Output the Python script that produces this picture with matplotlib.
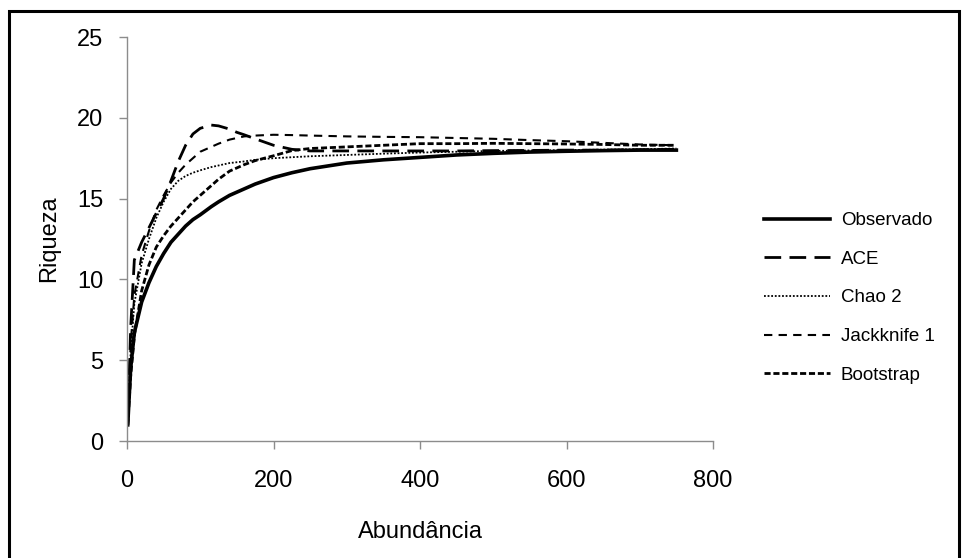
import matplotlib
matplotlib.use("Agg")
import matplotlib.pyplot as plt
from matplotlib.patches import Rectangle

plt.rcParams['font.family'] = ['Liberation Sans', 'DejaVu Sans']

abund = [1, 5, 10, 20, 30, 40, 50, 60, 70, 80, 90, 100, 115, 125, 140, 150, 160, 175,
         200, 225, 250, 300, 350, 400, 450, 500, 550, 600, 650, 700, 750]

observado = [1.0, 4.5, 6.7, 8.6, 9.8, 10.8, 11.6, 12.3, 12.8, 13.3, 13.7, 14.0, 14.5, 14.8,
             15.2, 15.4, 15.6, 15.9, 16.3, 16.6, 16.85, 17.2, 17.4, 17.55, 17.7, 17.8,
             17.88, 17.93, 17.97, 18.0, 18.0]
ace = [1.0, 7.0, 11.2, 12.3, 13.2, 14.1, 15.0, 16.1, 17.3, 18.3, 19.0, 19.35, 19.55, 19.5,
       19.3, 19.1, 18.95, 18.7, 18.3, 18.05, 17.95, 17.95, 17.95, 17.95, 17.95, 17.97,
       17.98, 18.0, 18.0, 18.02, 18.05]
chao2 = [1.0, 5.5, 8.5, 11.0, 12.5, 13.8, 14.8, 15.6, 16.1, 16.4, 16.6, 16.75, 16.95, 17.05,
         17.2, 17.25, 17.3, 17.4, 17.5, 17.56, 17.62, 17.7, 17.78, 17.85, 17.9, 17.95,
         17.98, 18.0, 18.03, 18.05, 18.1]
jackknife1 = [1.0, 6.0, 9.0, 11.5, 13.0, 14.3, 15.2, 16.0, 16.6, 17.1, 17.5, 17.9, 18.2, 18.4,
              18.65, 18.75, 18.85, 18.9, 18.95, 18.93, 18.9, 18.85, 18.82, 18.8, 18.75,
              18.7, 18.62, 18.55, 18.45, 18.35, 18.3]
bootstrap = [1.0, 4.0, 6.5, 9.3, 10.9, 12.0, 12.7, 13.3, 13.8, 14.3, 14.8, 15.2, 15.8, 16.2,
             16.7, 16.9, 17.1, 17.35, 17.65, 17.97, 18.1, 18.2, 18.3, 18.4, 18.4, 18.42,
             18.4, 18.38, 18.35, 18.3, 18.3]

labels = ['Observado', 'ACE', 'Chao 2', 'Jackknife 1', 'Bootstrap']
xticks = [0, 200, 400, 600, 800]
yticks = [0, 5, 10, 15, 20, 25]

fig = plt.figure(figsize=(9.68, 5.58), dpi=100)
ax = fig.add_axes([127/968, 1-441/558, (713-127)/968, (441-37)/558])

styles = [
    dict(ls='-', lw=2.6),
    dict(ls=(0, (6, 3)), lw=2.0),
    dict(ls=(0, (1, 1)), lw=1.3),
    dict(ls=(0, (4, 3)), lw=1.5),
    dict(ls=(0, (2.2, 1)), lw=2.0),
]
series = [observado, ace, chao2, jackknife1, bootstrap]
for s, lab, st in zip(series, labels, styles):
    ax.plot(abund, s, color='black', label=lab, **st)

ax.set_xlim(0, 800)
ax.set_ylim(0, 25)
ax.set_xticks(xticks)
ax.set_yticks(yticks)
for side in ['top', 'right']:
    ax.spines[side].set_visible(False)
for side in ['left', 'bottom']:
    ax.spines[side].set_color('#8c8c8c')
    ax.spines[side].set_linewidth(1.0)
ax.tick_params(axis='both', direction='out', color='#8c8c8c', length=6, width=1.0,
               labelsize=17, labelcolor='black')
ax.tick_params(axis='x', pad=15)
ax.tick_params(axis='y', pad=11)
ax.set_xlabel('Abundância', fontsize=17, labelpad=21)
ax.set_ylabel('Riqueza', fontsize=17, labelpad=12)

leg = ax.legend(loc='upper left', bbox_to_anchor=(764/968, 1-212/558),
                bbox_transform=fig.transFigure, frameon=False, fontsize=13.5,
                handlelength=3.5, handletextpad=0.6, labelspacing=1.15,
                borderpad=0, borderaxespad=0)

fig.patches.append(Rectangle((9/968, -0.05), (959-9)/968, 1.05 - 11/558,
                             transform=fig.transFigure, fill=False,
                             edgecolor='black', linewidth=2.2))

fig.savefig('out.png', dpi=100, facecolor='white')
